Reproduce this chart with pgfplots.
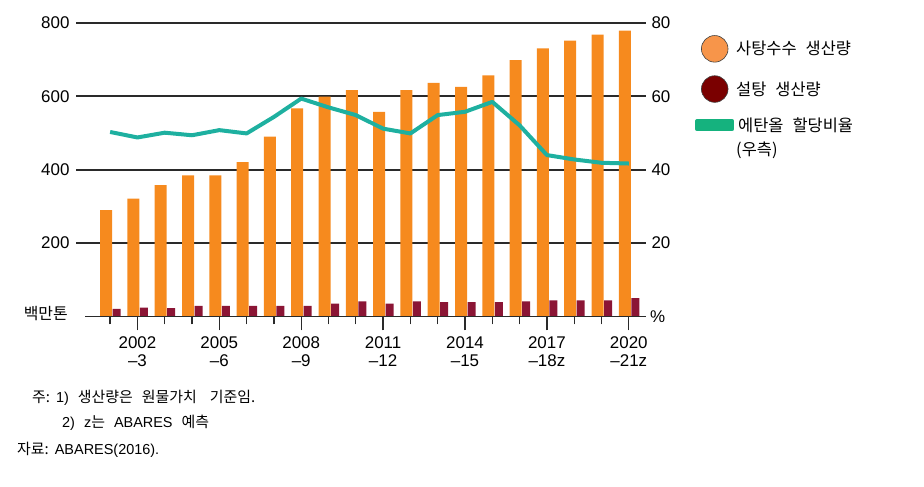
\documentclass[border=0pt]{standalone}
\usepackage{fontspec}
\setmainfont{Liberation Sans}
\newfontfamily\kr{Noto Sans CJK KR}
\newfontfamily\krn{Noto Sans CJK KR}
\usepackage{pgfplots}
\pgfplotsset{compat=1.18}
\definecolor{orangebar}{HTML}{F68A1E}
\definecolor{redbar}{HTML}{8B1535}
\definecolor{orangeleg}{HTML}{F7954A}
\definecolor{redleg}{HTML}{7A0000}
\definecolor{tealline}{RGB}{30,176,160}
\definecolor{tealleg}{HTML}{15B27E}
\definecolor{gridc}{HTML}{2A2A2A}
\newcommand\s{\hspace{9bp}}
\newcommand\ls{\hspace{9bp}}
\newcommand\nk{\krn\fontsize{15}{15}\selectfont}
\begin{document}
\begin{tikzpicture}
\path[use as bounding box] (0bp,0bp) rectangle (924bp,487bp);
\begin{axis}[
  at={(76bp,170.5bp)}, anchor=south west, scale only axis,
  width=570bp, height=293.5bp,
  xmin=-1.25, xmax=19.63, ymin=0, ymax=800,
  axis line style={draw=none},
  /pgf/number format/assume math mode=true,
  ytick={200,400,600,800}, ytick style={draw=none},
  ymajorgrids, grid style={gridc, line width=1.8bp},
  yticklabel style={font=\fontsize{17}{17}\selectfont, xshift=-3bp},
  xtick={0,...,19}, xticklabels={}, xtick pos=bottom, ytick pos=left,
  xtick align=outside, major tick length=8bp,
  xtick style={gridc, line width=1.3bp},
  extra x ticks={1,4,7,10,13,16,19},
  extra x tick labels={{2002\\–3},{2005\\–6},{2008\\–9},{2011\\–12},{2014\\–15},{2017\\–18z},{2020\\–21z}},
  extra x tick style={major tick length=14bp,
    tick label style={font=\fontsize{17}{18}\selectfont, align=center, yshift=-3bp}},
  clip=false,
]
\addplot[ybar, bar width=12bp, bar shift=-4bp, fill=orangebar, draw=none] coordinates {
(0,290) (1,321) (2,358) (3,385) (4,385) (5,421) (6,490) (7,567) (8,599) (9,617)
(10,558) (11,617) (12,637) (13,626) (14,657) (15,699) (16,731) (17,752) (18,768) (19,779)};
\addplot[ybar, bar width=8bp, bar shift=6.5bp, fill=redbar, draw=none] coordinates {
(0,21) (1,24) (2,23) (3,29) (4,29) (5,29) (6,29) (7,29) (8,35) (9,41)
(10,35) (11,41) (12,39) (13,39) (14,39) (15,41) (16,44) (17,44) (18,44) (19,50)};
\draw[gridc, line width=1.6bp] (axis cs:-0.92,0) -- (axis cs:19.63,0);
\end{axis}
\begin{axis}[
  at={(76bp,170.5bp)}, anchor=south west, scale only axis,
  width=570bp, height=293.5bp,
  xmin=-1.25, xmax=19.63, ymin=0, ymax=80,
  hide x axis, axis y line*=right, y axis line style={draw=none},
  /pgf/number format/assume math mode=true,
  ytick={20,40,60,80}, ytick style={draw=none},
  yticklabel style={font=\fontsize{17}{17}\selectfont, xshift=2bp},
  clip=false,
  legend style={at={(1.086,0.959)}, anchor=north west, draw=none, fill=none,
    font=\kr\fontsize{16.5}{24}\selectfont, row sep=13bp, cells={align=left}, inner sep=0pt},
  legend cell align=left,
]
\addlegendimage{legend image code/.code={\draw[fill=orangeleg, draw=black!75, line width=0.6bp] (17.5bp,0bp) circle (13.3bp);}}
\addlegendentry{사탕수수\ls{}생산량}
\addlegendimage{legend image code/.code={\draw[fill=redleg, draw=black!75, line width=0.6bp] (17.5bp,0bp) circle (13.3bp);}}
\addlegendentry{설탕\ls{}생산량}
\addplot[tealline, line width=4bp, line join=round,
  legend image code/.code={\fill[tealleg] (0bp,8bp) rectangle (35bp,16bp);}] coordinates {
(0,50.3) (1,48.8) (2,50.1) (3,49.4) (4,50.8) (5,49.9) (6,54.4) (7,59.4) (8,57.0) (9,54.9)
(10,51.2) (11,49.9) (12,54.9) (13,55.8) (14,58.5) (15,52.1) (16,44.0) (17,42.8) (18,41.9) (19,41.7)};
\addlegendentry{\hspace{2bp}에탄올\ls{}할당비율\\(우측)}
\end{axis}
\node[anchor=east, font=\krn\fontsize{16}{16}\selectfont, inner sep=0pt] at (68bp,173bp) {백만톤};
\node[anchor=west, font=\fontsize{17}{17}\selectfont, inner sep=0pt] at (650bp,170.5bp) {\%};
\node[anchor=west, font=\fontsize{14.5}{14.5}\selectfont, inner sep=0pt] at (32bp,89bp) {{\nk 주:}\hspace{6bp}1)\s{}{\nk 생산량은\s{}원물가치\hspace{13bp}기준임.}};
\node[anchor=west, font=\fontsize{14.5}{14.5}\selectfont, inner sep=0pt] at (62bp,64bp) {2)\s{}z{\nk 는}\s{}ABARES\s{}{\nk 예측}};
\node[anchor=west, font=\fontsize{14.5}{14.5}\selectfont, inner sep=0pt] at (17bp,37bp) {{\nk 자료:}\hspace{6bp}ABARES(2016).};
\end{tikzpicture}
\end{document}
